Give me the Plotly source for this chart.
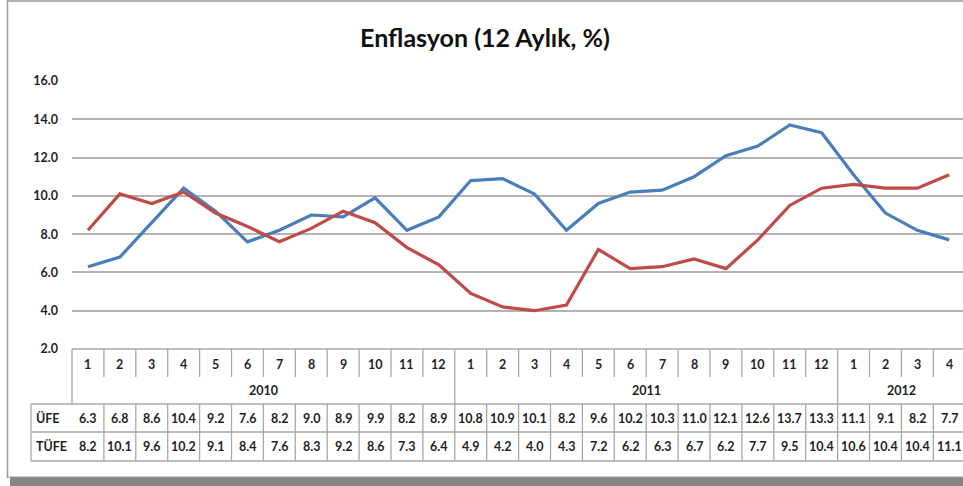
import plotly.graph_objects as go

# ---- data ----
months = [1, 2, 3, 4, 5, 6, 7, 8, 9, 10, 11, 12,
          1, 2, 3, 4, 5, 6, 7, 8, 9, 10, 11, 12,
          1, 2, 3, 4]
years = ["2010", "2011", "2012"]
year_counts = [12, 12, 4]
ufe = [6.3, 6.8, 8.6, 10.4, 9.2, 7.6, 8.2, 9.0, 8.9, 9.9, 8.2, 8.9,
       10.8, 10.9, 10.1, 8.2, 9.6, 10.2, 10.3, 11.0, 12.1, 12.6, 13.7, 13.3,
       11.1, 9.1, 8.2, 7.7]
tufe = [8.2, 10.1, 9.6, 10.2, 9.1, 8.4, 7.6, 8.3, 9.2, 8.6, 7.3, 6.4,
        4.9, 4.2, 4.0, 4.3, 7.2, 6.2, 6.3, 6.7, 6.2, 7.7, 9.5, 10.4,
        10.6, 10.4, 10.4, 11.1]
series_names = ["ÜFE", "TÜFE"]
title_text = "Enflasyon (12 Aylık, %)"
y_ticks = [2, 4, 6, 8, 10, 12, 14, 16]

# ---- layout geometry (page pixels) ----
W, H = 963, 486
L, T, B = 72, 81, 349          # plot area left, top, bottom (px)
R = 963
PW = R - L
PH = B - T
COLW = 31.9

def px(xp):
    return (xp - L) / PW

def py(yp):
    return (B - yp) / PH

x = list(range(len(months)))
FONT = "Lato"
TXT = "#1f1f1f"
GRID = "#b4b4b4"
TBL = "#a8a8a8"

fig = go.Figure()
fig.add_trace(go.Scatter(x=x, y=ufe, mode="lines", name=series_names[0],
                         line=dict(color="#4a7ebb", width=3.2)))
fig.add_trace(go.Scatter(x=x, y=tufe, mode="lines", name=series_names[1],
                         line=dict(color="#be4b48", width=3.2)))

x_end = -0.5 + PW / COLW
shapes = []
ann = []

def hline(y_px, x0p, x1p, color=TBL, w=1.3):
    shapes.append(dict(type="line", xref="paper", yref="paper",
                       x0=px(x0p), x1=px(x1p), y0=py(y_px), y1=py(y_px),
                       line=dict(color=color, width=w), layer="above"))

def vline_x(xv, y0p, y1p, color=TBL, w=1.3):
    shapes.append(dict(type="line", xref="x", yref="paper",
                       x0=xv, x1=xv, y0=py(y0p), y1=py(y1p),
                       line=dict(color=color, width=w), layer="above"))

def vline_px(xp, y0p, y1p, color=TBL, w=1.3):
    shapes.append(dict(type="line", xref="paper", yref="paper",
                       x0=px(xp), x1=px(xp), y0=py(y0p), y1=py(y1p),
                       line=dict(color=color, width=w), layer="above"))

# table horizontal lines
hline(349, L, 970)
hline(404, 31, 970)
hline(432, 31, 970)
hline(461, 31, 970)
# table left borders
vline_px(L, 349, 404)
vline_px(31, 404, 461)

# vertical separators
boundaries = []
acc = 0
for c in year_counts:
    acc += c
    boundaries.append(acc - 0.5)
for i in range(len(months)):
    xb = i + 0.5
    if xb in boundaries:
        vline_x(xb, 349, 461)
    else:
        vline_x(xb, 349, 377)
        vline_x(xb, 404, 461)

tf = dict(family=FONT, size=12.5, color=TXT, weight="bold")
for i, m in enumerate(months):
    ann.append(dict(x=i, y=py(364), xref="x", yref="paper", text=str(m),
                    showarrow=False, font=tf, xanchor="center", yanchor="middle"))
    ann.append(dict(x=i, y=py(418), xref="x", yref="paper", text=f"{ufe[i]:.1f}",
                    showarrow=False, font=tf, xanchor="center", yanchor="middle"))
    ann.append(dict(x=i, y=py(446), xref="x", yref="paper", text=f"{tufe[i]:.1f}",
                    showarrow=False, font=tf, xanchor="center", yanchor="middle"))
start = 0
for yname, c in zip(years, year_counts):
    ann.append(dict(x=start + (c - 1) / 2, y=py(390), xref="x", yref="paper",
                    text=yname, showarrow=False, font=tf,
                    xanchor="center", yanchor="middle"))
    start += c
ann.append(dict(x=px(34), y=py(418), xref="paper", yref="paper", text=series_names[0],
                showarrow=False, font=tf, xanchor="left", yanchor="middle"))
ann.append(dict(x=px(34), y=py(446), xref="paper", yref="paper", text=series_names[1],
                showarrow=False, font=tf, xanchor="left", yanchor="middle"))

# chart frame: left and top border, bottom shadow
vline_px(7.5, 0, 478, color="#9a9a9a", w=1.5)
hline(1, 7.5, 970, color="#9a9a9a", w=1.5)
shapes.append(dict(type="rect", xref="paper", yref="paper",
                   x0=px(10), x1=px(975), y0=py(490), y1=py(477),
                   fillcolor="#858585", line=dict(width=0), layer="above"))
hline(477, 7.5, 970, color="#9a9a9a", w=1.2)

fig.update_layout(
    width=W, height=H,
    margin=dict(l=L, r=W - R, t=T, b=H - B),
    paper_bgcolor="white", plot_bgcolor="white",
    showlegend=False,
    title=dict(text=title_text, x=485 / W, xref="container", xanchor="center",
               y=1 - 38 / H, yanchor="middle",
               font=dict(family=FONT, size=25, color="#111111", weight="bold")),
    xaxis=dict(range=[-0.5, x_end], showticklabels=False, showgrid=False,
               zeroline=False, showline=False, ticks=""),
    yaxis=dict(range=[2, 16], tickvals=y_ticks, tickformat=".1f",
               showgrid=True, gridcolor=GRID, gridwidth=1.5, zeroline=False,
               showline=False, ticks="", ticklabelstandoff=13,
               tickfont=dict(family=FONT, size=12.5, color=TXT, weight="bold")),
    shapes=shapes,
    annotations=ann,
)

fig.write_html(
    "out.html",
    config={"displayModeBar": False},
    post_script="document.body.style.margin='0';"
                "document.documentElement.style.overflow='hidden';"
                "document.body.style.overflow='hidden';",
)
